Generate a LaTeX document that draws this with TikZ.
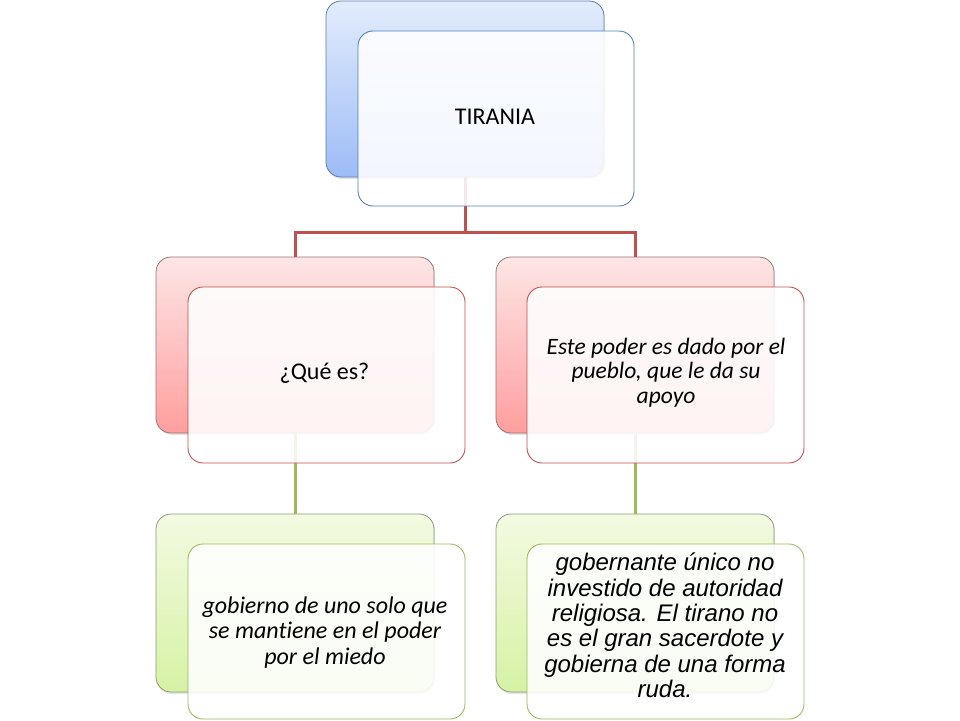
\documentclass[tikz,border=0pt]{standalone}
\usepackage{fontspec}
\setmainfont{Carlito}[Ligatures=NoCommon]
\newfontfamily\arialf{Liberation Sans}
\usetikzlibrary{shadows}
\definecolor{bluetop}{HTML}{E2ECFC}
\definecolor{bluebot}{HTML}{9DBCF6}
\definecolor{pinktop}{HTML}{FDE6E6}
\definecolor{pinkbot}{HTML}{FF9E9E}
\definecolor{greentop}{HTML}{F3FAE2}
\definecolor{greenbot}{HTML}{D6F2A4}
\definecolor{blueline}{HTML}{4F81BD}
\definecolor{redline}{HTML}{C0504D}
\definecolor{greenline}{HTML}{9BBB59}
\definecolor{blueback}{HTML}{5E7BA8}
\definecolor{pinkback}{HTML}{9A7474}
\definecolor{greenback}{HTML}{8A9A78}
\tikzset{
  backbox/.style={rounded corners=15pt, draw=#1, line width=0.8pt, inner sep=0pt,
    minimum width=278pt, minimum height=176pt,
    drop shadow={shadow xshift=1pt, shadow yshift=-2pt, opacity=0.2}},
  frontbox/.style={rounded corners=15pt, draw=#1, line width=0.9pt, fill=white,
    fill opacity=0.88, inner sep=0pt, minimum width=277pt, minimum height=176pt},
  conn/.style={draw=#1, line width=3pt},
  txt/.style={align=center, inner sep=0pt, text=black},
}
\begin{document}
\begin{tikzpicture}[x=1pt,y=-1pt]
\useasboundingbox[fill=white] (0,0) rectangle (960,720);
% back boxes
\node[backbox=blueback, top color=bluetop, bottom color=bluebot] (b1) at (465,89) {};
\node[backbox=pinkback, top color=pinktop, bottom color=pinkbot] (b2) at (295,345) {};
\node[backbox=pinkback, top color=pinktop, bottom color=pinkbot] (b3) at (635,345) {};
\node[backbox=greenback, top color=greentop, bottom color=greenbot, minimum height=178pt] (b4) at (295,603) {};
\node[backbox=greenback, top color=greentop, bottom color=greenbot, minimum height=178pt] (b5) at (635,603) {};
% connectors
\coordinate (j) at (465,232);
\draw[conn=redline] (b1.south) -- (j);
\draw[conn=redline] (b2.north) |- (j) -| (b3.north);
\draw[conn=greenline] (b2.south) -- (b4.north);
\draw[conn=greenline] (b3.south) -- (b5.north);
% front boxes
\node[frontbox=blueline, minimum width=276pt, minimum height=175pt] (f1) at (496,118.5) {};
\node[frontbox=redline] (f2) at (326.5,375) {};
\node[frontbox=redline] (f3) at (665.5,375) {};
\node[frontbox=greenline, minimum height=175pt] (f4) at (326.5,631.5) {};
\node[frontbox=greenline, minimum height=175pt] (f5) at (665.5,631.5) {};
% texts
\node[txt, font=\fontsize{24}{29}\selectfont] (t1) at (495,117) {TIRANIA};
\node[txt, font=\fontsize{24}{29}\selectfont] (t2) at (324.5,373) {¿Qué es?};
\node[txt, font=\fontsize{23.5}{24.5}\selectfont\itshape] (t3) at (666,372.5)
  {Este poder es dado por el\\pueblo, que le da su\\apoyo};
\node[txt, font=\fontsize{24}{25.5}\selectfont\itshape] (t4) at (325,632.5)
  {gobierno de uno solo que\\se mantiene en el poder\\por el miedo};
\node[txt, font=\fontsize{24}{25.4}\selectfont\arialf\itshape] (t5) at (665,625.5)
  {gobernante único no\\investido de autoridad\\religiosa. El tirano no\\es el gran sacerdote y\\gobierna de una forma\\ruda.};
\end{tikzpicture}
\end{document}
